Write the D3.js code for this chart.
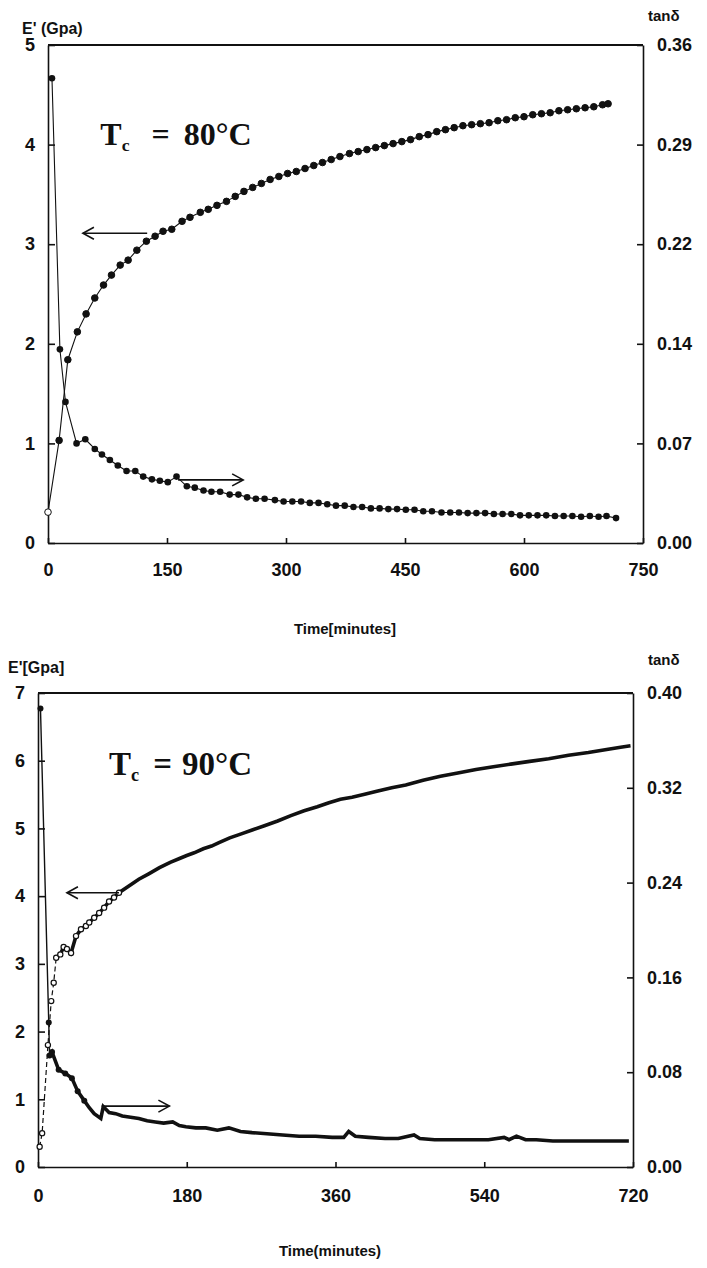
<!DOCTYPE html>
<html>
<head>
<meta charset="utf-8">
<script src="https://d3js.org/d3.v7.min.js"></script>
<style>
  body { margin: 0; background: #fff; }
  .axis text { font-family: "Liberation Sans", Arial, sans-serif; font-weight: bold; font-size: 18px; fill: #111; }
  .axis path, .axis line { stroke: #111; stroke-width: 1.6; }
  .title { font-family: "Liberation Sans", Arial, sans-serif; font-weight: bold; fill: #111; }
  .tc { font-family: "Liberation Serif", "Times New Roman", serif; font-weight: bold; fill: #111; }
</style>
</head>
<body>
<script>
// ---- Tc = 80°C panel ----
var timeA = [0,14,25,37,48,59,70,80,91,101,112,124,135,145,156,169,179,192,202,213,225,
  236,247,258,269,280,291,302,313,324,335,346,357,368,380,391,402,413,424,435,446,457,468,
  479,490,501,512,523,534,545,556,567,578,589,600,611,622,633,644,655,666,677,688,699,706];
var modA = [0.31,1.03,1.84,2.12,2.30,2.46,2.59,2.69,2.79,2.84,2.94,3.03,3.08,3.13,3.15,3.23,3.27,3.32,3.35,3.39,3.43,
  3.48,3.53,3.57,3.61,3.65,3.68,3.71,3.73,3.76,3.79,3.82,3.85,3.88,3.91,3.93,3.95,3.97,3.99,4.01,4.03,4.05,4.08,
  4.10,4.13,4.15,4.17,4.19,4.20,4.21,4.22,4.24,4.25,4.27,4.28,4.30,4.31,4.32,4.34,4.35,4.36,4.37,4.38,4.40,4.41];
var tanTimeA = [5,15,22,36,47,59,68,78,88,99,110,120,131,141,151,162,175,185,196,206,217,229,240,
  251,262,273,286,297,308,319,330,341,352,363,374,385,396,407,418,429,440,451,462,473,484,496,507,
  518,529,540,551,562,573,584,595,606,617,628,639,650,661,672,683,694,704,716];
var tanA = [0.336,0.140,0.102,0.072,0.075,0.068,0.064,0.060,0.056,0.052,0.052,0.048,0.046,0.045,0.044,0.048,0.041,0.040,0.038,0.037,0.037,0.035,0.035,
  0.033,0.032,0.032,0.031,0.030,0.030,0.030,0.029,0.029,0.028,0.027,0.027,0.026,0.026,0.025,0.025,0.0245,0.0245,0.024,0.024,0.023,0.023,0.022,0.022,
  0.022,0.0216,0.0216,0.0216,0.021,0.021,0.021,0.020,0.020,0.020,0.020,0.0195,0.0195,0.0195,0.019,0.0195,0.019,0.0195,0.018];
var xTicksA = [0,150,300,450,600,750];
var yTicksA = [0,1,2,3,4,5];
var rTicksA = [0,0.072,0.144,0.216,0.288,0.36];

// ---- Tc = 90°C panel ----
var timeB = [2,5,12,16,19,22,27,31,35,40,46,52,58,62,68,74,80,86,92,98,110,122,134,147,160,172,180,189,
  200,210,219,232,246,260,274,290,306,322,338,352,366,380,394,410,428,445,466,487,508,530,551,572,595,618,642,666,690,705,717];
var modB = [0.30,0.50,1.80,2.45,2.72,3.09,3.14,3.25,3.22,3.16,3.41,3.51,3.56,3.61,3.68,3.75,3.83,3.92,3.98,4.05,4.15,4.25,4.33,4.42,4.50,4.56,4.60,4.64,
  4.70,4.74,4.79,4.86,4.92,4.98,5.04,5.11,5.19,5.26,5.32,5.38,5.43,5.46,5.50,5.55,5.60,5.64,5.71,5.77,5.82,5.87,5.91,5.95,5.99,6.03,6.08,6.12,6.17,6.20,6.22];
var tanTimeB = [3,13,14,17,25,33,41,48,56,62,68,76,79,86,94,102,112,122,132,142,152,163,171,179,191,203,217,231,245,259,277,296,316,336,356,370,
  376,384,400,420,436,455,462,480,500,522,545,564,570,579,590,603,623,643,663,683,700,715];
var tanB = [0.387,0.122,0.094,0.097,0.082,0.079,0.075,0.064,0.056,0.050,0.045,0.041,0.051,0.046,0.045,0.043,0.042,0.041,0.039,0.038,0.037,0.038,0.035,0.034,0.033,0.033,0.031,0.033,0.030,0.029,0.028,0.027,0.026,0.026,0.025,0.025,
  0.030,0.026,0.025,0.024,0.024,0.027,0.024,0.023,0.023,0.023,0.023,0.025,0.023,0.026,0.023,0.023,0.022,0.022,0.022,0.022,0.022,0.022];
var xTicksB = [0,180,360,540,720];
var yTicksB = [0,1,2,3,4,5,6,7];
var rTicksB = [0,0.08,0.16,0.24,0.32,0.40];

var svg = d3.select("body").append("svg").attr("width", 707).attr("height", 1268);

function zip(ts, vs) { return ts.map(function (t, i) { return { t: t, v: vs[i] }; }); }

function arrow(g, x1, x2, y) {
  var dir = x2 > x1 ? 1 : -1;
  g.append("line").attr("x1", x1).attr("x2", x2).attr("y1", y).attr("y2", y)
    .attr("stroke", "#111").attr("stroke-width", 1.6);
  g.append("path")
    .attr("d", "M" + (x2 - dir * 11) + "," + (y - 6) + "L" + x2 + "," + y + "L" + (x2 - dir * 11) + "," + (y + 6))
    .attr("fill", "none").attr("stroke", "#111").attr("stroke-width", 1.6);
}

function panel(c) {
  var g = svg.append("g");
  var x = d3.scaleLinear().domain(c.xDomain).range([c.left, c.right]);
  var y = d3.scaleLinear().domain(c.yDomain).range([c.bottom, c.top]);
  var y2 = d3.scaleLinear().domain(c.rDomain).range([c.bottom, c.top]);

  // frame top line
  g.append("line").attr("x1", c.left).attr("x2", c.right).attr("y1", c.top).attr("y2", c.top)
    .attr("stroke", "#111").attr("stroke-width", 1.8);

  g.append("g").attr("class", "axis").attr("transform", "translate(0," + c.bottom + ")")
    .call(d3.axisBottom(x).tickValues(c.xTicks).tickSize(-5).tickPadding(c.xPad).tickSizeOuter(0));
  g.append("g").attr("class", "axis").attr("transform", "translate(" + c.left + ",0)")
    .call(d3.axisLeft(y).tickValues(c.yTicks).tickSize(-7).tickPadding(13).tickSizeOuter(0).tickFormat(d3.format("d")));
  g.append("g").attr("class", "axis").attr("transform", "translate(" + c.right + ",0)")
    .call(d3.axisRight(y2).tickValues(c.rTicks).tickSize(-6).tickPadding(14).tickSizeOuter(0).tickFormat(d3.format(".2f")));

  var line = d3.line().x(function (d) { return x(d.t); });
  var modPts = zip(c.modT, c.mod);
  var tanPts = zip(c.tanT, c.tan);

  if (c.dots) {
    g.append("path").datum(modPts).attr("fill", "none").attr("stroke", "#111").attr("stroke-width", 1.1)
      .attr("d", line.y(function (d) { return y(d.v); }));
    g.append("path").datum(tanPts).attr("fill", "none").attr("stroke", "#111").attr("stroke-width", 1.1)
      .attr("d", line.y(function (d) { return y2(d.v); }));
    g.selectAll(".dm").data(modPts).enter().append("circle")
      .attr("cx", function (d) { return x(d.t); }).attr("cy", function (d) { return y(d.v); })
      .attr("r", 3.3).attr("fill", function (d, i) { return i === 0 ? "#fff" : "#111"; })
      .attr("stroke", "#111").attr("stroke-width", 1);
    g.selectAll(".dt").data(tanPts).enter().append("circle")
      .attr("cx", function (d) { return x(d.t); }).attr("cy", function (d) { return y2(d.v); })
      .attr("r", 3.3).attr("fill", "#111");
  } else {
    var early = modPts.filter(function (d) { return d.t <= 22; });
    var late = modPts.filter(function (d) { return d.t >= 22; });
    g.append("path").datum(early).attr("fill", "none").attr("stroke", "#111").attr("stroke-width", 1.2)
      .attr("stroke-dasharray", "5,3").attr("d", line.y(function (d) { return y(d.v); }));
    g.append("path").datum(late).attr("fill", "none").attr("stroke", "#111").attr("stroke-width", 3.6)
      .attr("d", line.y(function (d) { return y(d.v); }));
    var tEarly = tanPts.filter(function (d) { return d.t <= 14; });
    var tLate = tanPts.filter(function (d) { return d.t >= 14; });
    g.append("path").datum(tEarly).attr("fill", "none").attr("stroke", "#111").attr("stroke-width", 1.4)
      .attr("d", line.y(function (d) { return y2(d.v); }));
    g.append("path").datum(tLate).attr("fill", "none").attr("stroke", "#111").attr("stroke-width", 3.6)
      .attr("d", line.y(function (d) { return y2(d.v); }));
    g.selectAll(".dm").data(modPts.filter(function (d) { return d.t < 100; })).enter().append("circle")
      .attr("cx", function (d) { return x(d.t); }).attr("cy", function (d) { return y(d.v); })
      .attr("r", 2.6).attr("fill", "#fff").attr("stroke", "#111").attr("stroke-width", 1.2);
    g.selectAll(".dt").data(tanPts.filter(function (d) { return d.t < 60; })).enter().append("circle")
      .attr("cx", function (d) { return x(d.t); }).attr("cy", function (d) { return y2(d.v); })
      .attr("r", 3).attr("fill", "#111");
  }

  arrow(g, x(c.modArrow[0]), x(c.modArrow[1]), y(c.modArrow[2]));
  arrow(g, x(c.tanArrow[0]), x(c.tanArrow[1]), y2(c.tanArrow[2]));

  // Tc label
  var tx = x(c.tcPos[0]), ty = y(c.tcPos[1]);
  var t = g.append("text").attr("class", "tc").attr("x", tx).attr("y", ty).attr("font-size", c.tcSize);
  t.append("tspan").text("T");
  t.append("tspan").attr("font-size", c.tcSize * 0.55).attr("dy", 6).text("c");
  t.append("tspan").attr("dy", -6).attr("dx", c.tcGap[0]).text("=");
  t.append("tspan").attr("dx", c.tcGap[1]).text(c.tcText);

  g.append("text").attr("class", "title").attr("x", c.yLabel[1]).attr("y", c.yLabel[2])
    .attr("font-size", 16).text(c.yLabel[0]);
  g.append("text").attr("class", "title").attr("x", c.rLabel[1]).attr("y", c.rLabel[2])
    .attr("font-size", 15).text("tanδ");
  g.append("text").attr("class", "title").attr("x", c.xLabel[1]).attr("y", c.xLabel[2])
    .attr("text-anchor", "middle").attr("font-size", 15).text(c.xLabel[0]);
}

panel({
  left: 48, right: 643, top: 45, bottom: 543,
  xDomain: [0, 750], yDomain: [0, 5], rDomain: [0, 0.36],
  xTicks: xTicksA, yTicks: yTicksA, rTicks: rTicksA, xPad: 20,
  modT: timeA, mod: modA, tanT: tanTimeA, tan: tanA, dots: true,
  modArrow: [125, 44, 3.11], tanArrow: [164, 246, 0.0456],
  tcPos: [66, 4.0], tcSize: 32, tcText: "80°C", tcGap: [22, 14],
  yLabel: ["E' (Gpa)", 22, 34], rLabel: [null, 648, 21], xLabel: ["Time[minutes]", 345, 634]
});

panel({
  left: 38, right: 633, top: 693, bottom: 1167,
  xDomain: [0, 720], yDomain: [0, 7], rDomain: [0, 0.40],
  xTicks: xTicksB, yTicks: yTicksB, rTicks: rTicksB, xPad: 22,
  modT: timeB, mod: modB, tanT: tanTimeB, tan: tanB, dots: false,
  modArrow: [98, 35, 4.05], tanArrow: [77, 159, 0.0514],
  tcPos: [86, 5.79], tcSize: 33, tcText: "90°C", tcGap: [14, 10],
  yLabel: ["E'[Gpa]", 8, 673], rLabel: [null, 648, 665], xLabel: ["Time(minutes)", 330, 1256]
});
</script>
</body>
</html>
